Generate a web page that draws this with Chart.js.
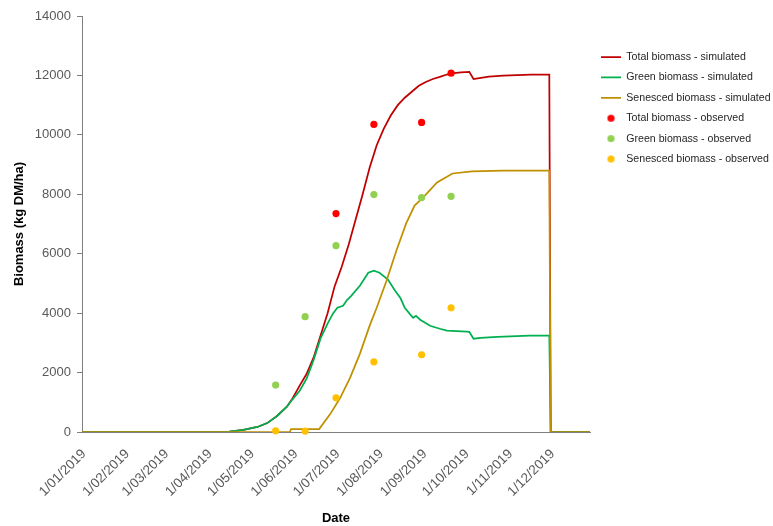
<!DOCTYPE html>
<html>
<head>
<meta charset="utf-8">
<script src="https://cdn.jsdelivr.net/npm/chart.js@4.4.1/dist/chart.umd.min.js"></script>
<style>
  html, body { margin: 0; padding: 0; background: #fff; }
  canvas { display: block; }
</style>
</head>
<body>
<canvas id="biomassChart" width="773" height="526"></canvas>
<script>
// x values are days counted from 1 Jan 2019 (day 0)
const monthStarts = [0, 31, 59, 90, 120, 151, 181, 212, 243, 273, 304, 334];
const monthLabels = ["1/01/2019", "1/02/2019", "1/03/2019", "1/04/2019", "1/05/2019", "1/06/2019",
  "1/07/2019", "1/08/2019", "1/09/2019", "1/10/2019", "1/11/2019", "1/12/2019"];
const yTicks = [0, 2000, 4000, 6000, 8000, 10000, 12000, 14000];

const totalSimDays = [0, 100, 105, 115, 125, 132, 139, 146, 150, 155, 160, 165, 170, 175, 180, 185, 190, 195, 200, 205,
  210, 215, 220, 225, 230, 235, 240, 245, 250, 255, 260, 265, 270, 276, 279, 282, 290, 300, 310, 320, 333, 334, 362];
const totalSimValues = [0, 0, 10, 70, 170, 300, 540, 850, 1130, 1550, 1950, 2500, 3250, 4000, 4900, 5550, 6300, 7150, 8000, 8900,
  9650, 10200, 10650, 11000, 11250, 11450, 11650, 11780, 11880, 11950, 12030, 12080, 12100, 12120, 11880, 11900, 11960, 11990, 12010, 12030, 12030, 0, 0];

const greenSimDays = [0, 100, 105, 115, 125, 132, 139, 146, 150, 155, 160, 165, 170, 175, 179, 182, 186, 189, 192, 198,
  204, 208, 212, 218, 223, 227, 230, 234, 236, 238, 241, 248, 255, 260, 274, 276, 279, 284, 296, 319, 333, 334, 362];
const greenSimValues = [0, 0, 10, 70, 170, 300, 540, 850, 1100, 1380, 1790, 2420, 3150, 3650, 4000, 4180, 4250, 4450, 4590, 4920,
  5360, 5430, 5360, 5130, 4760, 4500, 4180, 3950, 3845, 3910, 3780, 3575, 3475, 3410, 3375, 3370, 3140, 3170, 3205, 3240, 3240, 0, 0];

const senSimDays = [0, 148, 149, 169, 177, 184, 191, 198, 205, 210, 217, 224, 231, 237, 243, 253, 264, 278, 300, 333, 334, 362];
const senSimValues = [0, 0, 100, 100, 610, 1150, 1820, 2630, 3580, 4180, 5090, 6100, 7020, 7620, 7890, 8400, 8700, 8770, 8800, 8800, 0, 0];

const obsDays = [138, 159, 181, 208, 242, 263];
const totalObsDays = [181, 208, 242, 263];
const totalObsValues = [7350, 10350, 10420, 12075];
const greenObsValues = [1580, 3880, 6270, 7990, 7890, 7930];
const senObsValues = [40, 30, 1150, 2360, 2600, 4180];

const font = "'Liberation Sans', Arial, sans-serif";

function toPoints(xs, ys) {
  return xs.map((x, i) => ({ x: x, y: ys[i] }));
}

// small round marker used in the legend for the observed series
function dot(color) {
  const c = document.createElement("canvas");
  c.width = 9;
  c.height = 9;
  const g = c.getContext("2d");
  g.fillStyle = color;
  g.beginPath();
  g.arc(4.5, 4.5, 3.6, 0, Math.PI * 2);
  g.fill();
  return c;
}

function simLine(label, days, values, color, order) {
  return {
    label: label,
    data: toPoints(days, values),
    showLine: true,
    borderColor: color,
    backgroundColor: color,
    borderWidth: 1.75,
    pointRadius: 0,
    pointStyle: "line",
    tension: 0,
    order: order,
  };
}

function obsPoints(label, days, values, color, order) {
  return {
    label: label,
    data: toPoints(days, values),
    showLine: false,
    backgroundColor: color,
    borderColor: color,
    borderWidth: 0,
    pointRadius: 3.6,
    pointStyle: "circle",
    clip: false,
    order: order,
    legendDot: dot(color),
  };
}

// fixed legend box on the right, items placed like the original
const legendPlacer = {
  id: "legendPlacer",
  beforeInit(chart) {
    const fit = chart.legend.fit;
    chart.legend.fit = function () {
      fit.call(this);
      this.width = 183;
    };
  },
  afterLayout(chart) {
    chart.legend.left = 591.2;
    chart.legend.top = 41.9;
  },
};

new Chart(document.getElementById("biomassChart"), {
  type: "scatter",
  data: {
    datasets: [
      simLine("Total biomass - simulated", totalSimDays, totalSimValues, "#C00000", 6),
      simLine("Green biomass - simulated", greenSimDays, greenSimValues, "#00B050", 5),
      simLine("Senesced biomass - simulated", senSimDays, senSimValues, "#BF9000", 4),
      obsPoints("Total biomass - observed", totalObsDays, totalObsValues, "#FF0000", 3),
      obsPoints("Green biomass - observed", obsDays, greenObsValues, "#92D050", 2),
      obsPoints("Senesced biomass - observed", obsDays, senObsValues, "#FFC000", 1),
    ],
  },
  options: {
    responsive: false,
    animation: false,
    events: [],
    layout: { padding: { top: 16, left: 0, right: 0, bottom: 0 } },
    plugins: {
      tooltip: { enabled: false },
      legend: {
        position: "right",
        align: "start",
        labels: {
          usePointStyle: true,
          pointStyleWidth: 20,
          padding: 9.8,
          color: "#262626",
          font: { family: font, size: 10.6 },
          sort: (a, b) => a.datasetIndex - b.datasetIndex,
          generateLabels(chart) {
            const items = Chart.defaults.plugins.legend.labels.generateLabels(chart);
            items.forEach((it) => {
              const ds = chart.data.datasets[it.datasetIndex];
              if (ds.legendDot) {
                it.pointStyle = ds.legendDot;
              } else {
                it.strokeStyle = ds.borderColor;
                it.lineWidth = ds.borderWidth;
              }
            });
            return items;
          },
        },
      },
    },
    scales: {
      x: {
        type: "linear",
        min: 0,
        max: 362,
        afterBuildTicks: (scale) => {
          scale.ticks = monthStarts.map((v) => ({ value: v }));
        },
        afterFit: (scale) => {
          scale.height = 94;
        },
        grid: { display: false },
        border: { display: true, color: "#7f7f7f", width: 1 },
        ticks: {
          autoSkip: false,
          minRotation: 45,
          maxRotation: 45,
          padding: 6,
          labelOffset: 2,
          color: "#595959",
          font: { family: font, size: 13.5 },
          callback: (v, i) => monthLabels[i],
        },
        title: {
          display: true,
          text: "Date",
          color: "#000",
          font: { family: font, size: 13, weight: "bold" },
          padding: { top: 0, bottom: 0 },
        },
      },
      y: {
        min: 0,
        max: 14000,
        afterBuildTicks: (scale) => {
          scale.ticks = yTicks.map((v) => ({ value: v }));
        },
        afterFit: (scale) => {
          scale.width = 82;
        },
        grid: { drawOnChartArea: false, tickLength: 5, color: "#7f7f7f" },
        border: { display: true, color: "#7f7f7f", width: 1 },
        ticks: {
          padding: 6,
          color: "#595959",
          font: { family: font, size: 13 },
          callback: (v) => String(v),
        },
        title: {
          display: true,
          text: "Biomass (kg DM/ha)",
          color: "#000",
          font: { family: font, size: 13, weight: "bold" },
          padding: { top: 12, bottom: 0 },
        },
      },
    },
  },
  plugins: [legendPlacer],
});
</script>
</body>
</html>
